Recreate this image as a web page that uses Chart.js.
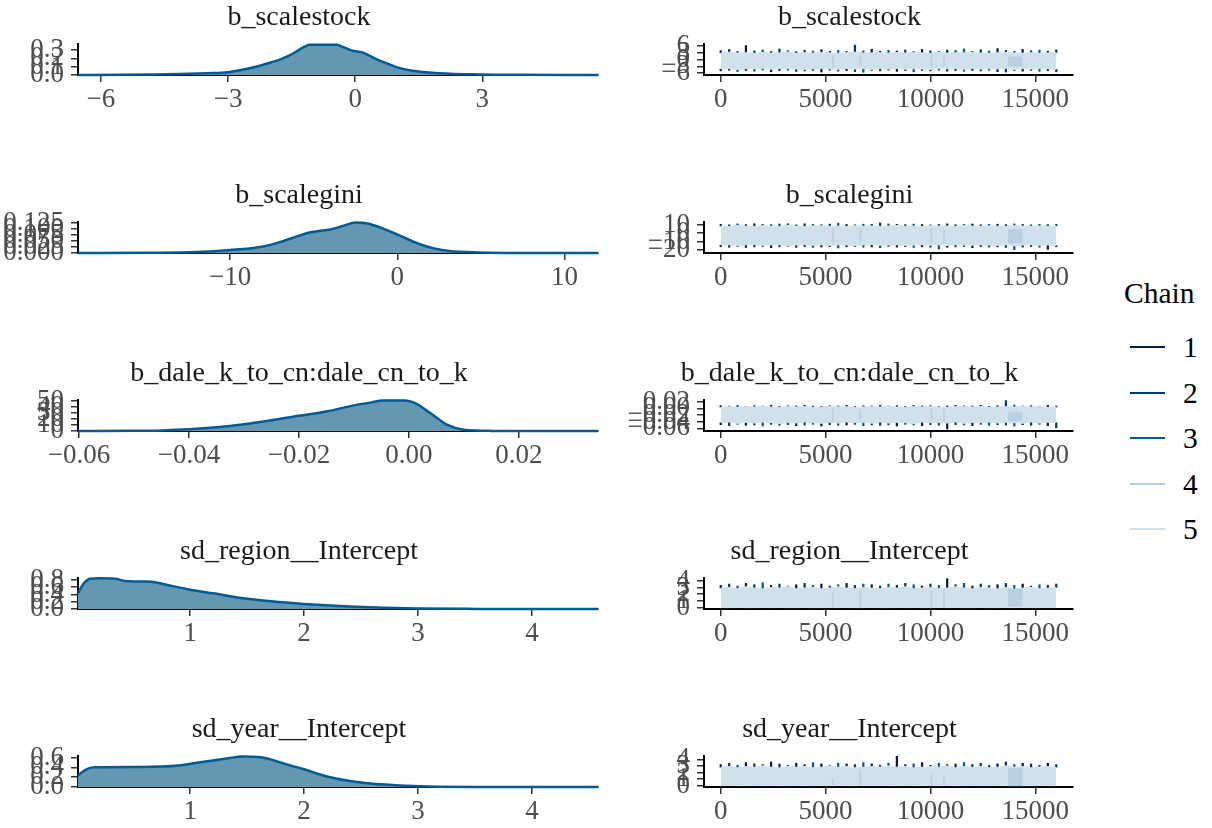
<!DOCTYPE html>
<html>
<head>
<meta charset="utf-8">
<script src="https://cdn.jsdelivr.net/npm/chart.js@4.4.1/dist/chart.umd.min.js"></script>
<style>
  body { margin: 0; background: #ffffff; }
  #page { position: relative; width: 1212px; height: 828px; overflow: hidden; font-family: 'Liberation Serif', serif; }
  #page canvas { position: absolute; }
  .lg-title { position: absolute; left: 1124px; top: 275px; font-size: 29.5px; line-height: 36px; color: #000; }
  #lg-items { position: absolute; left: 1130px; top: 347px; }
  .lg-row { position: absolute; left: 0; height: 0; }
  .lg-row .key { position: absolute; left: 0; top: -1px; width: 35px; height: 2px; }
  .lg-row .lab { position: absolute; left: 53px; top: -18px; font-size: 29.5px; line-height: 36px; color: #000; }
</style>
</head>
<body>
<div id="page">
  <div class="lg-title">Chain</div>
  <div id="lg-items"></div>
</div>
<script>
// ---- data ----
const params = ['b_scalestock', 'b_scalegini', 'b_dale_k_to_cn:dale_cn_to_k', 'sd_region__Intercept', 'sd_year__Intercept'];
const chainLabels = ['1', '2', '3', '4', '5'];
const chainColors = ['#011f4b', '#03396c', '#005b96', '#b3cde0', '#d1e1ec'];

// posterior densities
const dens1X = [-6.54, -5.5, -4.8, -4.13, -3.5, -3.0, -2.7, -2.42, -2.1, -1.78, -1.55, -1.38, -1.2, -1.08, -0.76, -0.44, -0.25, -0.06, 0.17, 0.37, 0.57, 0.77, 0.97, 1.35, 1.98, 2.93, 4.0, 5.73];
const dens1Y = [0, 0.002, 0.006, 0.012, 0.022, 0.034, 0.06, 0.09, 0.135, 0.185, 0.235, 0.285, 0.34, 0.363, 0.365, 0.363, 0.33, 0.292, 0.272, 0.225, 0.175, 0.135, 0.095, 0.05, 0.022, 0.007, 0.002, 0];
const dens1XRange = [-6.54, 5.73], dens1XTicks = [-6, -3, 0, 3], dens1XLabels = ['\u22126', '\u22123', '0', '3'];
const dens1YRange = [0, 0.373], dens1YTicks = [0, 0.1, 0.2, 0.3], dens1YLabels = ['0.0', '0.1', '0.2', '0.3'];

const dens2X = [-19.1, -15, -12, -10, -8, -7, -6, -5.2, -4.5, -4, -3.2, -2.5, -1.8, -1, 0.15, 1.3, 2.2, 3.1, 4.9, 8, 12.0];
const dens2Y = [0, 0.001, 0.004, 0.012, 0.027, 0.045, 0.068, 0.085, 0.092, 0.096, 0.112, 0.125, 0.121, 0.104, 0.071, 0.037, 0.019, 0.008, 0.002, 0, 0];
const dens2XRange = [-19.1, 12.0], dens2XTicks = [-10, 0, 10], dens2XLabels = ['\u221210', '0', '10'];
const dens2YRange = [0, 0.127], dens2YTicks = [0, 0.025, 0.05, 0.075, 0.1, 0.125], dens2YLabels = ['0.000', '0.025', '0.050', '0.075', '0.100', '0.125'];

const dens3X = [-0.0602, -0.05, -0.045, -0.04, -0.035, -0.03, -0.025, -0.02, -0.015, -0.01, -0.007, -0.0047, -0.0008, 0.0015, 0.003, 0.005, 0.007, 0.01, 0.015, 0.0344];
const dens3Y = [0, 0.3, 1.0, 2.8, 6, 11, 17.5, 25, 32, 42, 46.5, 49.8, 49.8, 44, 35, 22, 10, 2, 0.2, 0];
const dens3XRange = [-0.0602, 0.0344], dens3XTicks = [-0.06, -0.04, -0.02, 0, 0.02], dens3XLabels = ['\u22120.06', '\u22120.04', '\u22120.02', '0.00', '0.02'];
const dens3YRange = [0, 50.8], dens3YTicks = [0, 10, 20, 30, 40, 50], dens3YLabels = ['0', '10', '20', '30', '40', '50'];

const dens4X = [0.015, 0.06, 0.12, 0.2, 0.34, 0.43, 0.6, 0.66, 0.8, 1.0, 1.2, 1.5, 1.75, 2.0, 2.4, 2.7, 3.0, 3.5, 4.58];
const dens4Y = [0.43, 0.68, 0.83, 0.84, 0.83, 0.77, 0.755, 0.75, 0.66, 0.53, 0.43, 0.28, 0.2, 0.14, 0.07, 0.035, 0.012, 0.003, 0];
const dens4XRange = [0.015, 4.58], dens4XTicks = [1, 2, 3, 4], dens4XLabels = ['1', '2', '3', '4'];
const dens4YRange = [0, 0.85], dens4YTicks = [0, 0.2, 0.4, 0.6, 0.8], dens4YLabels = ['0.0', '0.2', '0.4', '0.6', '0.8'];

const dens5X = [0.015, 0.08, 0.16, 0.56, 0.9, 1.09, 1.35, 1.45, 1.6, 1.87, 2.0, 2.2, 2.5, 2.84, 3.1, 3.6, 4.58];
const dens5Y = [0.236, 0.35, 0.40, 0.405, 0.435, 0.505, 0.59, 0.62, 0.61, 0.445, 0.36, 0.215, 0.09, 0.03, 0.01, 0.002, 0];
const dens5XRange = [0.015, 4.58], dens5XTicks = [1, 2, 3, 4], dens5XLabels = ['1', '2', '3', '4'];
const dens5YRange = [0, 0.63], dens5YTicks = [0, 0.2, 0.4, 0.6], dens5YLabels = ['0.0', '0.2', '0.4', '0.6'];

// traces: envelope of chains per 400 iterations, plus excursions of the dark chains
const iters = [0, 400, 800, 1200, 1600, 2000, 2400, 2800, 3200, 3600, 4000, 4400, 4800, 5200, 5600, 6000, 6400, 6800, 7200, 7600, 8000, 8400, 8800, 9200, 9600, 10000, 10400, 10800, 11200, 11600, 12000, 12400, 12800, 13200, 13600, 14000, 14400, 14800, 15200, 15600, 16000];
const traceXRange = [-800, 16800], traceXTicks = [0, 5000, 10000, 15000], traceXLabels = ['0', '5000', '10000', '15000'];
const streakIter = [5350, 6650, 10050, 10650];
const patchIter = [13700, 14400];

const trace1Hi = [2.9, 3.2, 2.8, 3.0, 2.7, 3.1, 2.8, 2.9, 3.3, 2.7, 3.0, 2.8, 3.1, 2.9, 2.7, 3.0, 3.2, 2.8, 2.9, 3.0, 2.7, 3.1, 2.8, 3.0, 2.9, 2.7, 3.2, 2.8, 3.0, 2.9, 3.1, 2.8, 2.7, 3.0, 3.1, 2.9, 2.8, 3.0, 2.7, 2.9, 3.0];
const trace1Lo = [-4.2, -3.9, -4.4, -4.0, -4.1, -3.8, -4.3, -4.0, -3.9, -4.2, -4.4, -4.0, -3.9, -4.1, -4.3, -4.0, -4.2, -3.9, -4.4, -4.0, -4.1, -3.9, -4.3, -4.0, -4.2, -4.4, -3.9, -4.1, -4.0, -4.3, -3.9, -4.2, -4.0, -4.1, -3.9, -4.4, -4.0, -4.2, -3.9, -4.1, -4.3];
const trace1SpikeHi = [3.9, 4.4, 3.6, 6.1, 3.8, 4.2, 3.5, 4.6, 3.9, 3.4, 4.1, 3.7, 4.3, 3.6, 4.0, 3.5, 6.3, 3.8, 4.5, 3.6, 4.0, 3.7, 4.2, 3.5, 4.4, 3.8, 3.6, 4.1, 3.9, 4.6, 3.5, 4.3, 3.7, 4.8, 4.0, 3.6, 4.4, 3.8, 4.1, 3.6, 4.2];
const trace1SpikeLo = [-5.0, -4.7, -5.3, -4.8, -5.1, -4.6, -5.4, -4.9, -4.7, -5.2, -5.0, -4.8, -5.5, -4.7, -5.1, -4.9, -5.3, -5.6, -4.8, -5.0, -4.7, -5.2, -4.9, -5.4, -4.8, -5.0, -4.7, -5.1, -4.9, -5.2, -4.8, -5.0, -4.7, -5.3, -5.5, -4.9, -5.1, -4.8, -5.2, -4.9, -5.4];
const trace1StreakLo = [-3.2, -2.5, -3.0, -2.8], trace1StreakHi = [2.0, 1.5, 2.2, 1.8];
const trace1Patch = [1.2, -2.9];
const trace1YRange = [-6.8, 6.8], trace1YTicks = [-6, -3, 0, 3, 6], trace1YLabels = ['\u22126', '\u22123', '0', '3', '6'];

const trace2Hi = [8.2, 7.6, 8.8, 8.0, 7.7, 8.5, 8.1, 7.8, 8.9, 8.0, 7.6, 8.3, 8.7, 7.9, 8.1, 7.7, 8.6, 8.0, 8.4, 7.8, 8.2, 8.9, 7.9, 8.1, 7.6, 8.5, 8.0, 8.3, 7.7, 8.6, 8.1, 7.9, 8.4, 8.0, 7.8, 8.7, 8.2, 7.9, 8.3, 8.0, 8.5];
const trace2Lo = [-14.3, -13.8, -14.7, -14.0, -13.6, -14.5, -14.1, -13.9, -14.8, -14.2, -13.7, -14.4, -14.0, -14.6, -13.8, -14.2, -14.9, -14.0, -13.7, -14.5, -14.1, -13.9, -14.6, -14.3, -13.8, -14.4, -14.0, -14.7, -13.9, -14.2, -14.5, -13.8, -14.1, -14.6, -14.0, -15.2, -14.3, -13.9, -14.5, -14.1, -14.8];
const trace2SpikeHi = [10.2, 9.6, 10.8, 9.9, 11.0, 10.3, 9.7, 10.6, 11.0, 9.5, 10.9, 10.2, 9.8, 10.5, 11.6, 10.0, 9.7, 10.4, 10.1, 12.0, 10.7, 10.2, 9.9, 10.5, 10.0, 9.6, 10.3, 10.8, 9.8, 10.1, 10.6, 9.7, 10.2, 10.4, 9.9, 10.7, 10.1, 9.6, 10.3, 9.8, 10.2];
const trace2SpikeLo = [-16.2, -16.8, -15.9, -17.1, -16.4, -16.0, -17.4, -16.3, -15.8, -16.9, -16.2, -17.0, -16.5, -16.1, -17.6, -16.3, -16.0, -16.8, -16.4, -17.2, -15.9, -16.6, -16.1, -17.0, -16.3, -16.7, -19.0, -16.9, -16.4, -16.2, -17.3, -16.0, -16.6, -16.3, -17.0, -19.6, -16.5, -16.1, -16.8, -19.2, -16.3];
const trace2StreakLo = [-12, -10, -11, -12], trace2StreakHi = [6, 5, 6, 4];
const trace2Patch = [4, -12];
const trace2YRange = [-23.6, 13], trace2YTicks = [-20, -10, 0, 10], trace2YLabels = ['\u221220', '\u221210', '0', '10'];

const trace3Hi = [0.004, 0.005, 0.003, 0.005, 0.004, 0.006, 0.004, 0.003, 0.005, 0.004, 0.005, 0.003, 0.004, 0.006, 0.004, 0.005, 0.003, 0.004, 0.005, 0.004, 0.006, 0.004, 0.003, 0.005, 0.004, 0.005, 0.004, 0.003, 0.005, 0.006, 0.004, 0.005, 0.003, 0.004, 0.005, 0.004, 0.006, 0.004, 0.005, 0.003, 0.004];
const trace3Lo = [-0.043, -0.041, -0.045, -0.042, -0.044, -0.041, -0.043, -0.046, -0.042, -0.044, -0.041, -0.043, -0.045, -0.042, -0.044, -0.041, -0.043, -0.042, -0.045, -0.041, -0.044, -0.042, -0.043, -0.046, -0.041, -0.043, -0.042, -0.044, -0.041, -0.045, -0.042, -0.043, -0.041, -0.044, -0.042, -0.043, -0.045, -0.041, -0.044, -0.042, -0.043];
const trace3SpikeHi = [0.008, 0.007, 0.009, 0.006, 0.008, 0.007, 0.009, 0.006, 0.008, 0.007, 0.009, 0.007, 0.006, 0.008, 0.007, 0.009, 0.006, 0.008, 0.007, 0.009, 0.007, 0.008, 0.006, 0.009, 0.007, 0.008, 0.006, 0.007, 0.009, 0.008, 0.007, 0.009, 0.006, 0.008, 0.023, 0.010, 0.007, 0.008, 0.006, 0.009, 0.007];
const trace3SpikeLo = [-0.049, -0.052, -0.048, -0.051, -0.050, -0.053, -0.048, -0.051, -0.049, -0.052, -0.050, -0.048, -0.053, -0.049, -0.051, -0.050, -0.048, -0.052, -0.049, -0.051, -0.050, -0.053, -0.048, -0.050, -0.052, -0.049, -0.051, -0.062, -0.049, -0.050, -0.052, -0.048, -0.051, -0.049, -0.050, -0.053, -0.049, -0.051, -0.048, -0.052, -0.058];
const trace3StreakLo = [-0.038, -0.035, -0.036, -0.038], trace3StreakHi = [-0.002, -0.004, -0.003, -0.002];
const trace3Patch = [-0.012, -0.038];
const trace3YRange = [-0.068, 0.025], trace3YTicks = [-0.06, -0.04, -0.02, 0, 0.02], trace3YLabels = ['\u22120.06', '\u22120.04', '\u22120.02', '0.00', '0.02'];

const trace4Hi = [2.9, 3.0, 2.8, 3.1, 2.9, 2.8, 3.0, 2.9, 3.1, 2.8, 2.9, 3.0, 2.8, 2.9, 3.1, 2.9, 2.8, 3.0, 2.9, 2.8, 3.0, 2.9, 3.1, 2.8, 2.9, 3.0, 2.8, 2.9, 3.1, 2.9, 2.8, 3.0, 2.9, 2.8, 3.0, 2.7, 2.9, 3.0, 2.8, 2.9, 3.0];
const trace4Lo = [0.02, 0.01, 0.02, 0.01, 0.01, 0.02, 0.01, 0.02, 0.01, 0.01, 0.02, 0.01, 0.01, 0.02, 0.01, 0.02, 0.01, 0.01, 0.02, 0.01, 0.01, 0.02, 0.01, 0.02, 0.01, 0.01, 0.02, 0.01, 0.02, 0.01, 0.01, 0.02, 0.01, 0.01, 0.02, 0.01, 0.02, 0.01, 0.01, 0.02, 0.01];
const trace4SpikeHi = [3.3, 3.5, 3.2, 3.6, 3.4, 3.7, 3.3, 3.5, 3.2, 3.4, 3.6, 3.3, 3.5, 3.2, 3.4, 3.6, 3.3, 3.5, 3.4, 3.2, 3.5, 3.3, 3.6, 3.4, 3.2, 3.5, 3.3, 4.3, 3.4, 3.6, 3.2, 3.5, 3.3, 3.4, 3.6, 3.3, 3.5, 3.2, 3.4, 3.3, 3.5];
const trace4StreakLo = [0.05, 0.05, 0.05, 0.05], trace4StreakHi = [2.2, 2.6, 2.4, 2.6];
const trace4Patch = [2.8, 0.2];
const trace4YRange = [-0.2, 4.4], trace4YTicks = [0, 1, 2, 3, 4], trace4YLabels = ['0', '1', '2', '3', '4'];

const trace5Hi = [2.8, 2.9, 2.7, 2.9, 2.8, 3.0, 2.8, 2.7, 2.9, 2.8, 2.9, 2.7, 2.8, 3.0, 2.8, 2.9, 2.7, 2.8, 2.9, 2.8, 3.0, 2.8, 2.9, 2.7, 2.8, 2.9, 2.8, 3.0, 2.7, 2.9, 2.8, 2.9, 2.7, 2.8, 3.0, 2.8, 2.9, 2.7, 2.8, 2.9, 2.8];
const trace5Lo = [0.01, 0.02, 0.01, 0.01, 0.02, 0.01, 0.02, 0.01, 0.01, 0.02, 0.01, 0.01, 0.02, 0.01, 0.02, 0.01, 0.01, 0.02, 0.01, 0.02, 0.01, 0.01, 0.02, 0.01, 0.01, 0.02, 0.01, 0.02, 0.01, 0.01, 0.02, 0.01, 0.01, 0.02, 0.01, 0.02, 0.01, 0.01, 0.02, 0.01, 0.01];
const trace5SpikeHi = [3.2, 3.4, 3.1, 3.5, 3.3, 3.2, 3.6, 3.3, 3.1, 3.4, 3.2, 3.5, 3.3, 3.1, 3.4, 3.3, 3.2, 3.5, 3.3, 3.1, 3.4, 4.5, 3.2, 3.3, 3.5, 3.1, 3.4, 3.2, 3.3, 3.5, 3.2, 3.4, 3.1, 3.3, 3.6, 3.2, 3.4, 3.3, 3.1, 3.4, 3.2];
const trace5StreakLo = [0, 0, 0, 0], trace5StreakHi = [1.0, 2.4, 1.8, 1.2];
const trace5Patch = [2.6, 0];
const trace5YRange = [-0.2, 4.5], trace5YTicks = [0, 1, 2, 3, 4], trace5YLabels = ['0', '1', '2', '3', '4'];

// ---- drawing ----
const serif = 'Liberation Serif';
Chart.defaults.font.family = serif;
const page = document.getElementById('page');
const rowTop = [0, 178, 356, 534, 712];

function axis(range, ticks, labels, isX) {
  return {
    type: 'linear',
    min: range[0], max: range[1],
    offset: false,
    afterBuildTicks: s => { s.ticks = ticks.map(v => ({ value: v })); },
    afterFit: s => { if (isX) s.height = 45; else s.width = 78; },
    ticks: {
      font: { family: serif, size: 27 }, color: '#4d4d4d',
      autoSkip: false, maxRotation: 0, minRotation: 0,
      padding: isX ? 1.8 : 7,
      callback: (v, i) => labels[i]
    },
    grid: { offset: false, drawOnChartArea: false, drawTicks: true, tickLength: 7, color: '#333333', lineWidth: 1.5 },
    border: { display: true, color: '#000000', width: 2 }
  };
}

function panel(left, top, width, padRight, title, datasets, xAxis, yAxis) {
  const cv = document.createElement('canvas');
  cv.width = width; cv.height = 120;
  cv.style.left = left + 'px'; cv.style.top = top + 'px';
  page.appendChild(cv);
  return new Chart(cv, {
    type: 'line',
    data: { datasets },
    options: {
      responsive: false, animation: false, devicePixelRatio: 1,
      layout: { padding: { left: 0, right: padRight, top: 0, bottom: 0 } },
      plugins: {
        legend: { display: false }, tooltip: { enabled: false },
        title: { display: true, text: title, color: '#1a1a1a',
                 font: { family: serif, size: 28, weight: 'normal' },
                 padding: { top: 0.45, bottom: 9.95 } }
      },
      scales: { x: xAxis, y: yAxis }
    }
  });
}

function densitySets(xs, ys) {
  return [{
    data: xs.map((x, i) => ({ x, y: ys[i] })),
    fill: 'origin', backgroundColor: '#6497b1', borderColor: '#005b96', borderWidth: 2.5,
    pointRadius: 0, cubicInterpolationMode: 'monotone', clip: false
  }];
}

function band(xs, hi, lo, color, width) {
  return [
    { data: xs.map((x, i) => ({ x, y: hi[i] })), fill: '+1', backgroundColor: color,
      borderColor: color, borderWidth: width, pointRadius: 0, tension: 0 },
    { data: xs.map((x, i) => ({ x, y: lo[i] })), fill: false, backgroundColor: color,
      borderColor: color, borderWidth: width, pointRadius: 0, tension: 0 }
  ];
}

function bars(xs, from, to, color, thickness) {
  return {
    type: 'bar',
    data: xs.map((x, i) => ({ x, y: [from[i], to[i]] })),
    backgroundColor: color, borderWidth: 0, barThickness: thickness, grouped: false
  };
}

function traceSets(hi, lo, spikeHi, spikeLo, streakLo, streakHi, patch) {
  // first dataset is drawn on top: chain 4 patch, chain 4 streaks, light band, dark excursions
  const dark = c => chainColors[c.dataIndex % 3];
  const sets = [];
  sets.push(...band(patchIter, [patch[0], patch[0]], [patch[1], patch[1]], 'rgba(179,205,224,0.85)', 0.5));
  sets.push(bars(streakIter, streakLo, streakHi, 'rgba(179,205,224,0.7)', 1.5));
  sets.push(...band(iters, hi, lo, chainColors[4], 1));
  sets.push(bars(iters, hi, spikeHi, dark, 1.6));
  if (spikeLo) sets.push(bars(iters, spikeLo, lo, dark, 1.6));
  return sets;
}

const dens = [
  [dens1X, dens1Y, dens1XRange, dens1XTicks, dens1XLabels, dens1YRange, dens1YTicks, dens1YLabels],
  [dens2X, dens2Y, dens2XRange, dens2XTicks, dens2XLabels, dens2YRange, dens2YTicks, dens2YLabels],
  [dens3X, dens3Y, dens3XRange, dens3XTicks, dens3XLabels, dens3YRange, dens3YTicks, dens3YLabels],
  [dens4X, dens4Y, dens4XRange, dens4XTicks, dens4XLabels, dens4YRange, dens4YTicks, dens4YLabels],
  [dens5X, dens5Y, dens5XRange, dens5XTicks, dens5XLabels, dens5YRange, dens5YTicks, dens5YLabels]
];
const traces = [
  [trace1Hi, trace1Lo, trace1SpikeHi, trace1SpikeLo, trace1StreakLo, trace1StreakHi, trace1Patch, trace1YRange, trace1YTicks, trace1YLabels],
  [trace2Hi, trace2Lo, trace2SpikeHi, trace2SpikeLo, trace2StreakLo, trace2StreakHi, trace2Patch, trace2YRange, trace2YTicks, trace2YLabels],
  [trace3Hi, trace3Lo, trace3SpikeHi, trace3SpikeLo, trace3StreakLo, trace3StreakHi, trace3Patch, trace3YRange, trace3YTicks, trace3YLabels],
  [trace4Hi, trace4Lo, trace4SpikeHi, null, trace4StreakLo, trace4StreakHi, trace4Patch, trace4YRange, trace4YTicks, trace4YLabels],
  [trace5Hi, trace5Lo, trace5SpikeHi, null, trace5StreakLo, trace5StreakHi, trace5Patch, trace5YRange, trace5YTicks, trace5YLabels]
];

params.forEach((name, r) => {
  const d = dens[r];
  panel(0, rowTop[r], 620, 22, name, densitySets(d[0], d[1]),
        axis(d[2], d[3], d[4], true), axis(d[5], d[6], d[7], false));
  const t = traces[r];
  panel(626, rowTop[r], 474, 27, name, traceSets(t[0], t[1], t[2], t[3], t[4], t[5], t[6]),
        axis(traceXRange, traceXTicks, traceXLabels, true), axis(t[7], t[8], t[9], false));
});

// legend
const items = document.getElementById('lg-items');
chainLabels.forEach((lab, i) => {
  const row = document.createElement('div');
  row.className = 'lg-row';
  row.style.top = (i * 45.5) + 'px';
  row.innerHTML = '<span class="key" style="background:' + chainColors[i] + '"></span><span class="lab">' + lab + '</span>';
  items.appendChild(row);
});
</script>
</body>
</html>
